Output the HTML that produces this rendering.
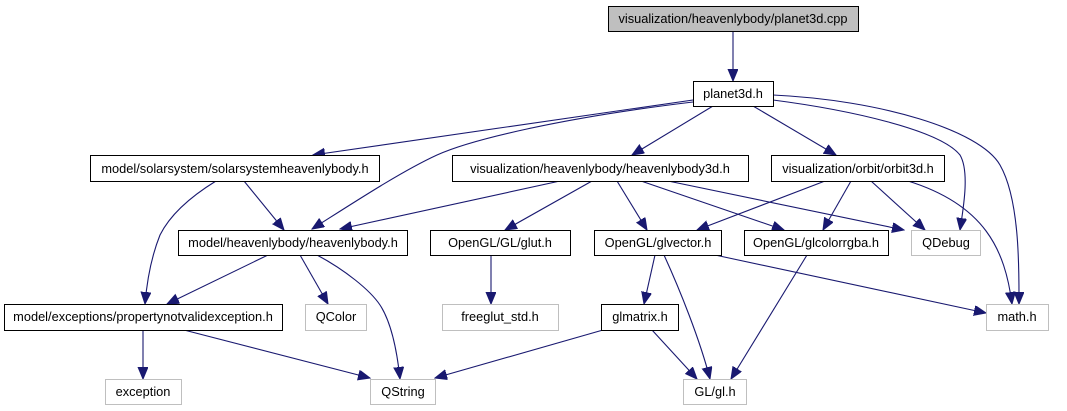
<!DOCTYPE html>
<html><head><meta charset="utf-8"><style>
html,body{margin:0;padding:0;background:#fff;}
svg{display:block;}
text{font-family:"Liberation Sans",sans-serif;font-size:12.8px;fill:#000;}
</style></head><body>
<svg width="1067" height="411" viewBox="0 0 1067 411" xmlns="http://www.w3.org/2000/svg">
<defs>
<marker id="a" markerUnits="userSpaceOnUse" markerWidth="13" markerHeight="11" refX="12" refY="5" orient="auto">
<path d="M0,0 L12,5 L0,10 z" fill="#191970" stroke="#191970"/>
</marker>
</defs>
<g fill="none" stroke="#191970" stroke-width="1.1" marker-end="url(#a)">
<path d="M733,31 L733,81"/>
<path d="M693,100 L313,155"/>
<path d="M693,102 C560,118 470,140 437,155 C400,172 350,205 312,229"/>
<path d="M713,106 L632,155"/>
<path d="M753,106 L836,155"/>
<path d="M773,100 C850,110 940,130 960,155 C970,172 963,210 960,230"/>
<path d="M773,95 C880,100 980,130 1000,165 C1020,200 1019,270 1019,304"/>
<path d="M216,181 C190,197 170,215 160,235 C152,255 147,280 145,304"/>
<path d="M244,181 L284,230"/>
<path d="M560,181 L340,229"/>
<path d="M592,181 L505,230"/>
<path d="M617,181 L647,230"/>
<path d="M641,181 L784,230"/>
<path d="M668,181 L904,230"/>
<path d="M825,181 L697,230"/>
<path d="M851,181 L823,230"/>
<path d="M871,181 L925,230"/>
<path d="M908,181 C985,205 1005,250 1012,304"/>
<path d="M268,255 L167,304"/>
<path d="M300,255 L328,304"/>
<path d="M317,255 C345,270 370,290 380,305 C393,325 398,360 400,379"/>
<path d="M491,255 L491,304"/>
<path d="M655,255 L644,304"/>
<path d="M664,255 C680,290 700,340 710,379"/>
<path d="M715,255 L986,313"/>
<path d="M807,255 L731,379"/>
<path d="M603,330 L435,378"/>
<path d="M652,330 L697,379"/>
<path d="M143,330 L143,379"/>
<path d="M184,330 L370,378"/>
</g>
<g stroke-width="1">
<rect x="608.5" y="6.5" width="250" height="25" fill="#bfbfbf" stroke="#000"/>
<rect x="693.5" y="81.5" width="80" height="25" fill="#fff" stroke="#000"/>
<rect x="90.5" y="155.5" width="289" height="26" fill="#fff" stroke="#000"/>
<rect x="452.5" y="155.5" width="296" height="26" fill="#fff" stroke="#000"/>
<rect x="771.5" y="155.5" width="173" height="26" fill="#fff" stroke="#000"/>
<rect x="178.5" y="230.5" width="229" height="25" fill="#fff" stroke="#000"/>
<rect x="430.5" y="230.5" width="140" height="25" fill="#fff" stroke="#000"/>
<rect x="594.5" y="230.5" width="127" height="25" fill="#fff" stroke="#000"/>
<rect x="744.5" y="230.5" width="144" height="25" fill="#fff" stroke="#000"/>
<rect x="911.5" y="230.5" width="69" height="25" fill="#fff" stroke="#bfbfbf"/>
<rect x="4.5" y="304.5" width="278" height="26" fill="#fff" stroke="#000"/>
<rect x="305.5" y="304.5" width="61" height="26" fill="#fff" stroke="#bfbfbf"/>
<rect x="442.5" y="304.5" width="116" height="26" fill="#fff" stroke="#bfbfbf"/>
<rect x="601.5" y="304.5" width="77" height="26" fill="#fff" stroke="#000"/>
<rect x="986.5" y="304.5" width="62" height="26" fill="#fff" stroke="#bfbfbf"/>
<rect x="105.5" y="379.5" width="76" height="25" fill="#fff" stroke="#bfbfbf"/>
<rect x="370.5" y="379.5" width="65" height="25" fill="#fff" stroke="#bfbfbf"/>
<rect x="683.5" y="379.5" width="63" height="25" fill="#fff" stroke="#bfbfbf"/>
</g>
<g text-anchor="middle">
<text x="733" y="23">visualization/heavenlybody/planet3d.cpp</text>
<text x="733" y="98">planet3d.h</text>
<text x="235" y="173">model/solarsystem/solarsystemheavenlybody.h</text>
<text x="600" y="173">visualization/heavenlybody/heavenlybody3d.h</text>
<text x="858" y="173">visualization/orbit/orbit3d.h</text>
<text x="293" y="247">model/heavenlybody/heavenlybody.h</text>
<text x="500" y="247">OpenGL/GL/glut.h</text>
<text x="658" y="247">OpenGL/glvector.h</text>
<text x="816" y="247">OpenGL/glcolorrgba.h</text>
<text x="946" y="247">QDebug</text>
<text x="143" y="321">model/exceptions/propertynotvalidexception.h</text>
<text x="336" y="321">QColor</text>
<text x="500" y="321">freeglut_std.h</text>
<text x="640" y="321">glmatrix.h</text>
<text x="1017" y="321">math.h</text>
<text x="143" y="396">exception</text>
<text x="403" y="396">QString</text>
<text x="715" y="396">GL/gl.h</text>
</g>
</svg>
</body></html>
